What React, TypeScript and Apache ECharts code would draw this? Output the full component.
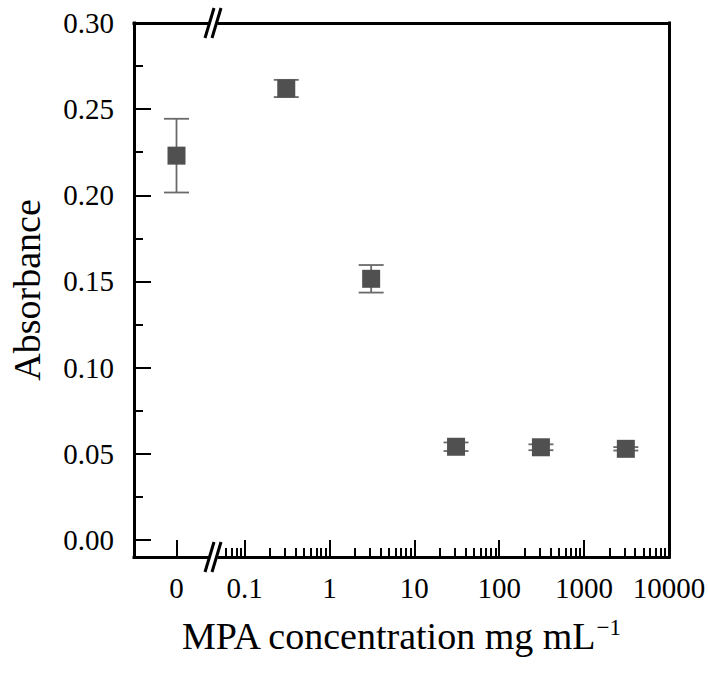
import { useEffect, useRef } from "react";
import * as echarts from "echarts";

// ---- data ----
const concentrations = [0, 0.31, 3.1, 31, 310, 3100]; // mg mL^-1
const absorbance = [0.223, 0.262, 0.1515, 0.054, 0.0537, 0.0528];
const errors = [0.0214, 0.005, 0.008, 0.0025, 0.0017, 0.001];

// ---- axes ----
const yTickValues = [0, 0.05, 0.1, 0.15, 0.2, 0.25, 0.3];
const yMinorTickValues = [0.025, 0.075, 0.125, 0.175, 0.225, 0.275];
const xZeroTickValues = [0];
const xLogTickValues = [0.1, 1, 10, 100, 1000, 10000];
const xLogDecades = [0.01, 0.1, 1, 10, 100, 1000];
const xLogMinorMultipliers = [2, 3, 4, 5, 6, 7, 8, 9];
const yMin = -0.01;
const yMax = 0.3;
const xLogMin = 0.05;
const xLogMax = 10000;
const xTitle = "MPA concentration mg mL";
const xTitleSup = "\u22121";
const yTitle = "Absorbance";

const FONT = '"Liberation Serif", "Times New Roman", serif';

export default function App() {
  const ref = useRef<HTMLDivElement>(null);

  useEffect(() => {
    document.body.style.margin = "0";
    const chart = echarts.init(ref.current!, null, { renderer: "svg" });

    const xLogMinor: number[] = [];
    xLogDecades.forEach((d) =>
      xLogMinorMultipliers.forEach((m) => {
        const v = Number((d * m).toPrecision(3));
        if (v > xLogMin && v < xLogMax) xLogMinor.push(v);
      })
    );

    const zeroData: number[][] = [];
    const logData: number[][] = [];
    concentrations.forEach((c, i) => {
      const row = [c, absorbance[i], errors[i]];
      if (c === 0) zeroData.push(row);
      else logData.push(row);
    });

    const axisLine = {
      show: true,
      onZero: false,
      lineStyle: { color: "#000", width: 3, cap: "square" },
    };
    const hiddenLine = { show: false, onZero: false };
    const majorTick = (vals: number[]) => ({
      show: true,
      inside: true,
      length: 17,
      customValues: vals,
      lineStyle: { color: "#000", width: 2 },
    });
    const minorTick = (vals: number[]) => ({
      show: true,
      inside: true,
      length: 9,
      customValues: vals,
      lineStyle: { color: "#000", width: 2 },
    });
    const labelStyle = {
      fontSize: 29,
      fontFamily: FONT,
      color: "#000",
      hideOverlap: false,
    };
    const fmtNum = (v: number) => String(Number(Number(v).toPrecision(6)));

    const renderItem = (params: any, api: any) => {
      const x = api.value(0);
      const y = api.value(1);
      const e = api.value(2);
      const c = api.coord([x, y]);
      const t = api.coord([x, y + e]);
      const b = api.coord([x, y - e]);
      const hw = 12.5;
      const s = 18;
      const barStyle = { stroke: "#6a6a6a", lineWidth: 1.8 };
      return {
        type: "group",
        children: [
          { type: "line", shape: { x1: t[0], y1: t[1], x2: b[0], y2: b[1] }, style: barStyle },
          { type: "line", shape: { x1: t[0] - hw, y1: t[1], x2: t[0] + hw, y2: t[1] }, style: barStyle },
          { type: "line", shape: { x1: b[0] - hw, y1: b[1], x2: b[0] + hw, y2: b[1] }, style: barStyle },
          {
            type: "rect",
            shape: { x: c[0] - s / 2, y: c[1] - s / 2, width: s, height: s },
            style: { fill: "#505050" },
          },
        ],
      };
    };

    const breakMarks = (yy: number) => [
      {
        type: "rect",
        z: 100,
        shape: { x: 208.5, y: yy - 3, width: 9, height: 6 },
        style: { fill: "#fff" },
      },
      {
        type: "line",
        z: 101,
        shape: { x1: 205, y1: yy + 15, x2: 214, y2: yy - 15 },
        style: { stroke: "#000", lineWidth: 3 },
      },
      {
        type: "line",
        z: 101,
        shape: { x1: 212, y1: yy + 15, x2: 221, y2: yy - 15 },
        style: { stroke: "#000", lineWidth: 3 },
      },
    ];

    const option: any = {
      animation: false,
      backgroundColor: "#fff",
      grid: [
        { left: 134, top: 23, width: 85, height: 534, outerBoundsMode: "none" },
        { left: 219, top: 23, width: 450, height: 534, outerBoundsMode: "none" },
      ],
      xAxis: [
        {
          gridIndex: 0,
          type: "value",
          min: -1,
          max: 1,
          position: "bottom",
          axisLine,
          axisTick: majorTick(xZeroTickValues),
          axisLabel: { ...labelStyle, customValues: xZeroTickValues, margin: 16, formatter: fmtNum },
          splitLine: { show: false },
        },
        {
          gridIndex: 1,
          type: "log",
          logBase: 10,
          min: xLogMin,
          max: xLogMax,
          position: "bottom",
          axisLine,
          axisTick: majorTick(xLogTickValues),
          axisLabel: { ...labelStyle, customValues: xLogTickValues, margin: 16, formatter: fmtNum },
          splitLine: { show: false },
        },
        {
          gridIndex: 1,
          type: "log",
          logBase: 10,
          min: xLogMin,
          max: xLogMax,
          position: "bottom",
          axisLine: hiddenLine,
          axisTick: minorTick(xLogMinor),
          axisLabel: { show: false },
          splitLine: { show: false },
        },
        {
          gridIndex: 0,
          type: "value",
          min: -1,
          max: 1,
          position: "top",
          axisLine,
          axisTick: { show: false },
          axisLabel: { show: false },
          splitLine: { show: false },
        },
        {
          gridIndex: 1,
          type: "log",
          logBase: 10,
          min: xLogMin,
          max: xLogMax,
          position: "top",
          axisLine,
          axisTick: { show: false },
          axisLabel: { show: false },
          splitLine: { show: false },
        },
      ],
      yAxis: [
        {
          gridIndex: 0,
          type: "value",
          min: yMin,
          max: yMax,
          position: "left",
          axisLine,
          axisTick: majorTick(yTickValues),
          axisLabel: {
            ...labelStyle,
            customValues: yTickValues,
            margin: 20,
            formatter: (v: number) => Number(v).toFixed(2),
          },
          splitLine: { show: false },
        },
        {
          gridIndex: 0,
          type: "value",
          min: yMin,
          max: yMax,
          position: "left",
          axisLine: hiddenLine,
          axisTick: minorTick(yMinorTickValues),
          axisLabel: { show: false },
          splitLine: { show: false },
        },
        {
          gridIndex: 1,
          type: "value",
          min: yMin,
          max: yMax,
          position: "right",
          axisLine,
          axisTick: { show: false },
          axisLabel: { show: false },
          splitLine: { show: false },
        },
      ],
      series: [
        {
          type: "custom",
          xAxisIndex: 0,
          yAxisIndex: 0,
          data: zeroData,
          renderItem,
          z: 10,
        },
        {
          type: "custom",
          xAxisIndex: 1,
          yAxisIndex: 2,
          data: logData,
          renderItem,
          z: 10,
        },
      ],
      graphic: [
        ...breakMarks(23),
        ...breakMarks(557),
        {
          type: "text",
          x: 27,
          y: 290,
          rotation: Math.PI / 2,
          style: {
            text: yTitle,
            fontSize: 38,
            fontFamily: FONT,
            fill: "#000",
            textAlign: "center",
            textVerticalAlign: "middle",
          },
        },
        {
          type: "text",
          x: 401,
          y: 636,
          style: {
            text: `{m|${xTitle}}{s|${xTitleSup}}`,
            fill: "#000",
            textAlign: "center",
            textVerticalAlign: "middle",
            rich: {
              m: { fontSize: 38, fontFamily: FONT, lineHeight: 40, fill: "#000" },
              s: {
                fontSize: 23,
                fontFamily: FONT,
                lineHeight: 33,
                verticalAlign: "top",
                fill: "#000",
              },
            },
          },
        },
      ],
    };

    chart.setOption(option);
    return () => chart.dispose();
  }, []);

  return <div ref={ref} style={{ width: 708, height: 675 }} />;
}
